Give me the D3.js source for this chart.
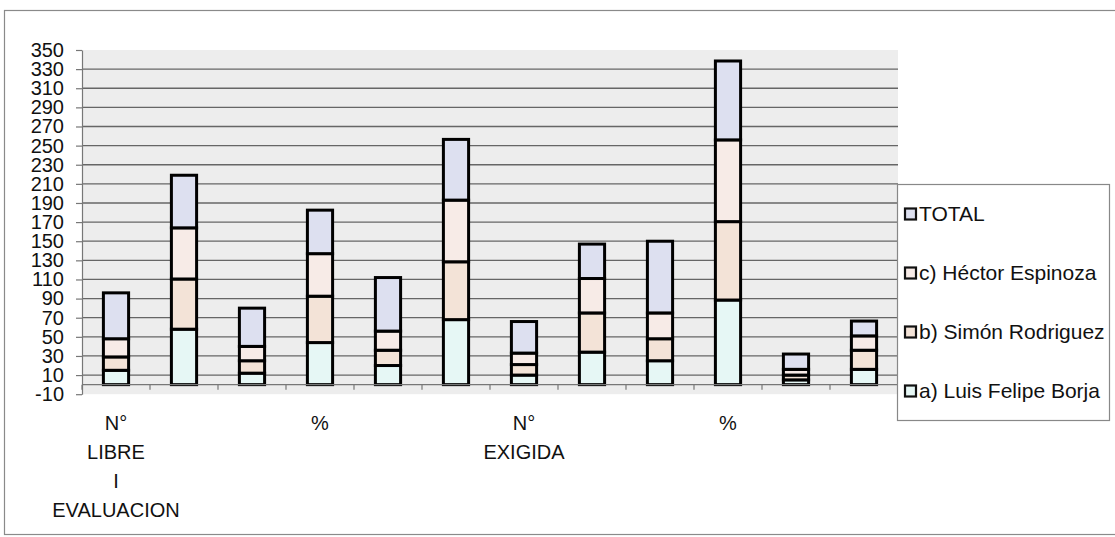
<!DOCTYPE html>
<html><head><meta charset="utf-8">
<script src="https://cdn.jsdelivr.net/npm/d3@7"></script>
<style>
body{margin:0;background:#fff}
text{font-family:"Liberation Sans",Arial,sans-serif}
</style>
</head><body>
<svg id="c" width="1115" height="537"></svg>
<script>
// ---- data ----
const categories = ["N° LIBRE I EVALUACION","%","N°","%","N°","%","N° EXIGIDA","%","N°","%","N°","%"];
const tickIndex = [0, 3, 6, 9];
const tickLabels = [["N°","LIBRE","I","EVALUACION"],["%"],["N°","EXIGIDA"],["%"]];
const seriesNames = ["a) Luis Felipe Borja","b) Simón Rodriguez","c) Héctor Espinoza","TOTAL"];
const luisFelipeBorja = [15, 58, 12, 44, 20, 68, 10, 34, 25, 88.5, 5, 16];
const simonRodriguez  = [14, 52.5, 13, 48.5, 16, 60.5, 11, 41, 23, 82, 5, 20];
const hectorEspinoza  = [19, 53.5, 15, 44.5, 20, 64.5, 12, 36, 27, 85.5, 6, 15];
const total           = [48, 55, 40, 45.5, 56, 63.5, 33, 36, 75, 82.5, 16, 15.5];
const yTicks = d3.range(-10, 351, 20);
const colors = ["#E6F7F5","#F3E3D7","#F7EBE7","#DDE0F0"];

// ---- layout ----
const svg = d3.select("#c");
const plot = {left: 82, right: 898, top: 50, bottom: 394.2};
const y = d3.scaleLinear().domain([-10, 350]).range([plot.bottom, plot.top]);
const x = d3.scaleBand().domain(d3.range(categories.length))
  .range([plot.left, plot.right]).paddingInner(0.6).paddingOuter(0.3);

// outer chart border
svg.append("rect").attr("x", 4.5).attr("y", 10.5).attr("width", 1120).attr("height", 524)
  .attr("fill", "none").attr("stroke", "#8a8a8a").attr("stroke-width", 1.2);

// plot area
svg.append("rect").attr("x", plot.left).attr("y", plot.top)
  .attr("width", plot.right - plot.left).attr("height", plot.bottom - plot.top)
  .attr("fill", "#EDEDED");

// gridlines
svg.append("g").selectAll("line").data(yTicks.filter(v => v > -10 && v < 350)).join("line")
  .attr("x1", plot.left).attr("x2", plot.right)
  .attr("y1", d => y(d)).attr("y2", d => y(d))
  .attr("stroke", "#666").attr("stroke-width", 1.3);

// stacked bars
const rows = categories.map((c, i) => ({i, a: luisFelipeBorja[i], b: simonRodriguez[i], c: hectorEspinoza[i], t: total[i]}));
const keys = ["a","b","c","t"];
const stacked = d3.stack().keys(keys)(rows);
const bw = x.bandwidth() - 2;
svg.append("g").selectAll("g").data(stacked).join("g")
  .attr("fill", (d, k) => colors[k])
  .selectAll("rect").data(d => d).join("rect")
  .attr("x", d => x(d.data.i) + 1)
  .attr("width", bw)
  .attr("y", d => y(d[1]))
  .attr("height", d => y(d[0]) - y(d[1]))
  .attr("stroke", "#000").attr("stroke-width", 3);

// y axis
const gy = svg.append("g").attr("transform", `translate(${plot.left},0)`)
  .call(d3.axisLeft(y).tickValues(yTicks).tickSize(6).tickPadding(12).tickSizeOuter(0)
    .tickFormat(d => String(d)));
gy.select(".domain").attr("stroke", "#777").attr("stroke-width", 1.2);
gy.selectAll(".tick line").attr("stroke", "#777").attr("stroke-width", 1.2);
gy.selectAll(".tick text").attr("font-size", 20).attr("fill", "#111")
  .attr("font-family", '"Liberation Sans",Arial,sans-serif');

// x axis line at 0 with tick marks at band boundaries
const step = x.step();
const bounds = d3.range(categories.length + 1).map(k => plot.left + k * step);
svg.append("line").attr("x1", plot.left).attr("x2", plot.right)
  .attr("y1", y(0)).attr("y2", y(0)).attr("stroke", "#777").attr("stroke-width", 1.2);
svg.append("g").selectAll("line").data(bounds).join("line")
  .attr("x1", d => d).attr("x2", d => d).attr("y1", y(0)).attr("y2", y(0) + 5)
  .attr("stroke", "#777").attr("stroke-width", 1.2);

// x labels (shown every 3rd category)
const gx = svg.append("g");
tickIndex.forEach((ci, k) => {
  const t = gx.append("text").attr("text-anchor", "middle").attr("font-size", 20).attr("fill", "#111")
    .attr("x", x(ci) + x.bandwidth() / 2);
  tickLabels[k].forEach((line, j) => {
    t.append("tspan").attr("x", x(ci) + x.bandwidth() / 2).attr("y", 430 + j * 29).text(line);
  });
});

// legend
const lg = svg.append("g");
lg.append("rect").attr("x", 897.5).attr("y", 184.5).attr("width", 212).attr("height", 236)
  .attr("fill", "#fff").attr("stroke", "#888").attr("stroke-width", 1.2);
const order = [3, 2, 1, 0];
order.forEach((k, j) => {
  const cy = 214 + j * 59;
  lg.append("rect").attr("x", 905).attr("y", cy - 5.5).attr("width", 11).attr("height", 11)
    .attr("fill", colors[k]).attr("stroke", "#111").attr("stroke-width", 2.2);
  lg.append("text").attr("x", 919).attr("y", cy).attr("dy", "0.35em")
    .attr("font-size", 21).attr("fill", "#111").text(seriesNames[k]);
});
</script>
</body></html>
